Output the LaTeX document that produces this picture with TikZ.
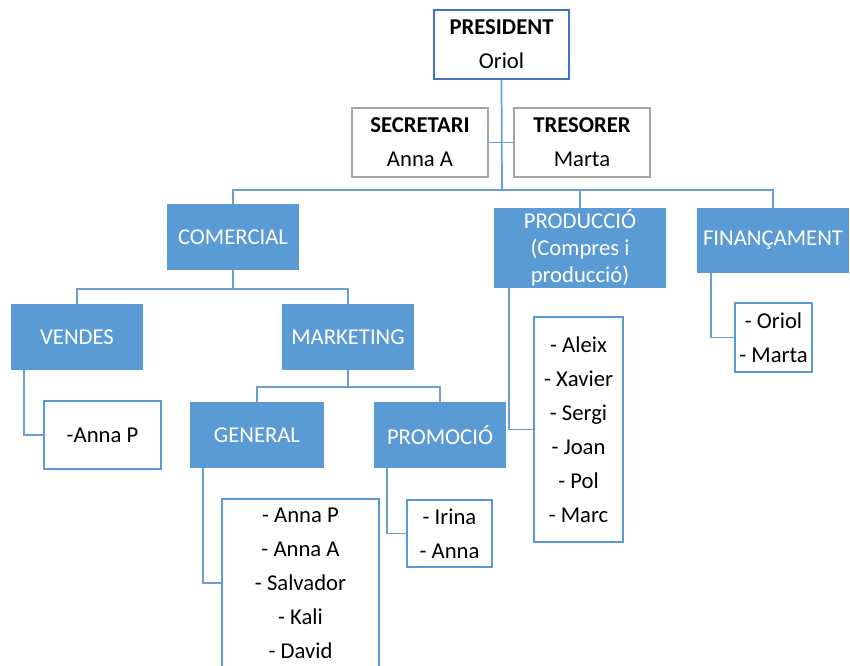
\documentclass[tikz,border=0pt]{standalone}
\usepackage{fontspec}
\setmainfont{Carlito}
\definecolor{accent}{HTML}{5B9BD5}
\definecolor{presblue}{HTML}{4472C4}
\definecolor{graybd}{HTML}{A5A5A5}
\definecolor{conn}{HTML}{6A9FD4}
\tikzset{
 base/.style={inner sep=0pt, align=center, font=\fontsize{17}{25.5}\selectfont},
 presbox/.style={base, draw=presblue, line width=1.5pt, fill=white},
 officer/.style={base, draw=graybd, line width=1.5pt, fill=white},
 unit/.style={base, fill=accent, text=white},
 listbox/.style={base, draw=accent, line width=1.1pt, fill=white},
 link/.style={draw=conn, line width=1.3pt},
}
\newcommand\bx[7]{\node[#1, minimum width={(#4-#2)*0.75pt}, minimum height={(#5-#3)*0.75pt}] (#6) at ({(#2+#4)/2},{(#3+#5)/2}) {#7};}
\begin{document}
\begin{tikzpicture}[x=0.75pt,y=-0.75pt]
\path[use as bounding box] (0,0) rectangle (850,666);
\bx{presbox}{434}{10}{569}{79}{pres}{\textbf{PRESIDENT}\\Oriol}
\bx{officer}{352}{108}{488}{177}{sec}{\textbf{SECRETARI}\\Anna A}
\bx{officer}{514}{108}{650}{177}{tres}{\textbf{TRESORER}\\Marta}
\bx{unit}{167}{204}{299}{270}{com}{COMERCIAL}
\bx{unit, font=\fontsize{17}{20}\selectfont}{494}{208}{666}{288}{prod}{PRODUCCIÓ\\(Compres i\\producció)}
\bx{unit}{697}{208}{849}{273}{fin}{FINANÇAMENT}
\bx{unit}{11}{304}{143}{370}{vend}{VENDES}
\bx{unit}{282}{304}{414}{370}{mkt}{MARKETING}
\bx{unit}{190}{402}{324}{468}{gen}{GENERAL}
\bx{unit}{374}{402}{506}{468}{promo}{PROMOCIÓ}
\bx{listbox}{44}{401}{161}{469}{annap}{-Anna P}
\bx{listbox}{222}{499}{379}{667}{genl}{- Anna P\\- Anna A\\- Salvador\\- Kali\\- David}
\bx{listbox}{407}{500}{492}{567}{promol}{- Irina\\- Anna}
\bx{listbox}{534}{317}{623}{542}{prodl}{- Aleix\\- Xavier\\- Sergi\\- Joan\\- Pol\\- Marc}
\bx{listbox}{735}{303}{812}{372}{finl}{- Oriol\\- Marta}
\coordinate (bus) at (502,190);
\coordinate (cbus) at (233,289);
\coordinate (mbus) at (348,387);
\draw[link] (pres.south) -- (bus);
\draw[link] (sec.east) -- (tres.west);
\draw[link] (com.north) |- (bus) -| (fin.north);
\draw[link] (bus) -| (prod.north);
\draw[link] (com.south) -- (cbus);
\draw[link] (vend.north) |- (cbus) -| (mkt.north);
\draw[link] (mkt.south) -- (mbus);
\draw[link] (gen.north) |- (mbus) -| (promo.north);
\draw[link] ([shift={(13,0)}]vend.south west) |- (annap.west);
\draw[link] ([shift={(13,0)}]gen.south west) |- (genl.west);
\draw[link] ([shift={(13,0)}]promo.south west) |- (promol.west);
\draw[link] ([shift={(15,0)}]prod.south west) |- (prodl.west);
\draw[link] ([shift={(14,0)}]fin.south west) |- (finl.west);
\end{tikzpicture}
\end{document}
